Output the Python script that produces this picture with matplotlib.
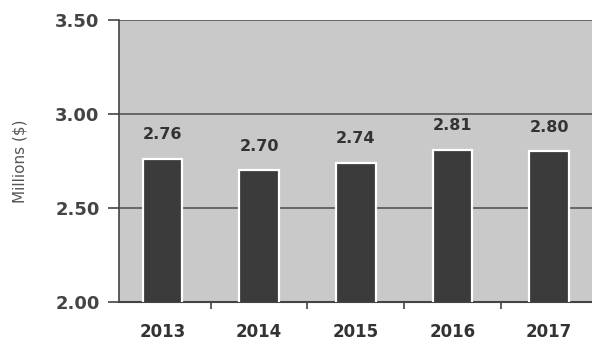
import numpy as np
import matplotlib.pyplot as plt

years = ['2013', '2014', '2015', '2016', '2017']
values = [2.76, 2.70, 2.74, 2.81, 2.80]
y_ticks = [2.00, 2.50, 3.00, 3.50]

plt.rcParams['font.family'] = ['DejaVu Sans']

fig = plt.figure(figsize=(5.92, 3.54), dpi=100)
fig.patch.set_facecolor('white')
ax = fig.add_axes([0.201, 0.147, 0.80, 0.797])
ax.set_facecolor('#c9c9c9')

x = np.arange(len(years))
ax.bar(x, values, width=0.41, color='#3b3b3b', edgecolor='white', linewidth=1.6, zorder=3)

for xi, v in zip(x, values):
    ax.annotate(f'{v:.2f}', (xi, v), xytext=(0, 12), textcoords='offset points',
                ha='center', va='bottom', fontsize=11.5, fontweight='bold', color='#333333', zorder=4)

ax.set_ylim(2.0, 3.5)
ax.set_xlim(-0.45, len(years) - 0.55)
ax.set_yticks(y_ticks)
ax.set_yticklabels([f'{t:.2f}' for t in y_ticks], fontsize=13, fontweight='bold', color='#444444')
ax.yaxis.grid(True, color='#555555', linewidth=1.2, zorder=1)
ax.set_axisbelow(True)

# year labels centered under bars, tick marks between categories
ax.set_xticks(x)
ax.set_xticklabels(years, fontsize=12, fontweight='bold', color='#333333')
ax.tick_params(axis='x', length=0, pad=15)
ax.set_xticks(x[:-1] + 0.5, minor=True)
ax.tick_params(axis='x', which='minor', length=5, width=1.2, color='#444444', direction='out')
ax.tick_params(axis='y', length=8, width=1.2, color='#444444', direction='out', pad=6)

ax.set_ylabel('Millions ($)', fontsize=11, color='#555555', labelpad=20)

for side in ['top', 'right']:
    ax.spines[side].set_visible(False)
ax.spines['left'].set_color('#444444')
ax.spines['left'].set_linewidth(1.2)
ax.spines['bottom'].set_color('#444444')
ax.spines['bottom'].set_linewidth(1.5)

fig.savefig('out.png', dpi=100)
